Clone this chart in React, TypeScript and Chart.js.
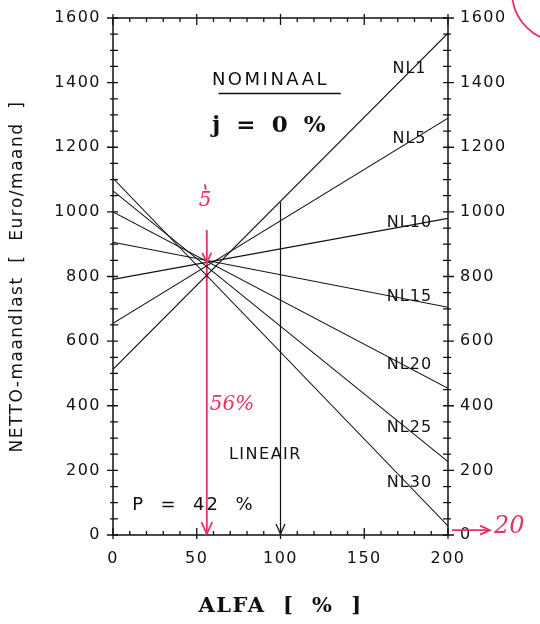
import React, { useEffect, useRef } from 'react';
import { Chart, registerables } from 'chart.js';

Chart.register(...registerables);

// ALFA [%] range of each NL line
const alfaRange = [0, 200];
// NL series labels
const nlLabels = ['NL1', 'NL5', 'NL10', 'NL15', 'NL20', 'NL25', 'NL30'];
// NETTO-maandlast at ALFA = 0
const nettoAtStart = [513, 655, 791, 906, 1000, 1065, 1104];
// NETTO-maandlast at ALFA = 200
const nettoAtEnd = [1553, 1290, 980, 705, 454, 227, 28];
// tick labels
const xTickValues = [0, 50, 100, 150, 200];
const yTickValues = [0, 200, 400, 600, 800, 1000, 1200, 1400, 1600];
// LINEAIR marker
const lineairAlfa = [100, 100];
const lineairNetto = [1030, 0];
// hand-drawn red marker (56%)
const markAlfa = [56, 56];
const markNetto = [944, 0];

const RED = '#e5325f';
const SANS = '"DejaVu Sans", sans-serif';

function arrowHead(ctx: CanvasRenderingContext2D, x: number, y: number, dir: 'down' | 'right', size: number) {
  ctx.beginPath();
  if (dir === 'down') {
    ctx.moveTo(x - size * 0.45, y - size);
    ctx.lineTo(x, y);
    ctx.lineTo(x + size * 0.45, y - size);
  } else {
    ctx.moveTo(x - size, y - size * 0.45);
    ctx.lineTo(x, y);
    ctx.lineTo(x - size, y + size * 0.45);
  }
  ctx.stroke();
}

const spacingPlugin = {
  id: 'spacing',
  beforeDraw(chart: any) {
    (chart.ctx as any).letterSpacing = '1.5px';
  },
  afterDraw(chart: any) {
    (chart.ctx as any).letterSpacing = '0px';
  },
};

const decorPlugin = {
  id: 'decor',
  afterDatasetsDraw(chart: any) {
    const { ctx, chartArea: a, scales } = chart;
    const x = scales.x;
    const y = scales.y;
    ctx.save();
    ctx.strokeStyle = '#111';
    ctx.lineWidth = 1.5;
    ctx.strokeRect(a.left, a.top, a.right - a.left, a.bottom - a.top);
    // ticks crossing the frame
    ctx.lineWidth = 1.3;
    for (let v = alfaRange[0]; v <= alfaRange[1]; v += 10) {
      const px = x.getPixelForValue(v);
      const major = xTickValues.includes(v);
      const l = major ? 7 : 4;
      ctx.beginPath();
      ctx.moveTo(px, a.bottom - l);
      ctx.lineTo(px, a.bottom + (major ? 4 : 0));
      ctx.moveTo(px, a.top - (major ? 4 : 0));
      ctx.lineTo(px, a.top + l);
      ctx.stroke();
    }
    for (let v = 0; v <= 1600; v += 50) {
      const py = y.getPixelForValue(v);
      const major = yTickValues.includes(v);
      ctx.beginPath();
      ctx.moveTo(a.left - (major ? 6 : 3), py);
      ctx.lineTo(a.left + 5, py);
      ctx.moveTo(a.right - 5, py);
      ctx.lineTo(a.right + (major ? 6 : 3), py);
      ctx.stroke();
    }
    // NL labels on their lines
    ctx.fillStyle = '#111';
    ctx.textAlign = 'center';
    ctx.textBaseline = 'middle';
    ctx.font = `16px ${SANS}`;
    (ctx as any).letterSpacing = '1px';
    const labelAlfa = 177;
    nlLabels.forEach((lab, i) => {
      const v = nettoAtStart[i] + (nettoAtEnd[i] - nettoAtStart[i]) * (labelAlfa - alfaRange[0]) / (alfaRange[1] - alfaRange[0]);
      ctx.fillText(lab, x.getPixelForValue(labelAlfa), y.getPixelForValue(v) - 3);
    });
    // NOMINAAL
    ctx.font = `18px ${SANS}`;
    (ctx as any).letterSpacing = '2.5px';
    ctx.fillText('NOMINAAL', x.getPixelForValue(94), y.getPixelForValue(1408));
    ctx.lineWidth = 1.5;
    ctx.beginPath();
    ctx.moveTo(x.getPixelForValue(63), y.getPixelForValue(1366));
    ctx.lineTo(x.getPixelForValue(136), y.getPixelForValue(1366));
    ctx.stroke();
    (ctx as any).letterSpacing = '0px';
    ctx.font = `bold 23px "DejaVu Serif", serif`;
    ctx.fillText('j  =  0  %', x.getPixelForValue(93), y.getPixelForValue(1266));
    ctx.font = `16px ${SANS}`;
    (ctx as any).letterSpacing = '1.5px';
    ctx.fillText('LINEAIR', x.getPixelForValue(91), y.getPixelForValue(248));
    ctx.font = `18px ${SANS}`;
    (ctx as any).letterSpacing = '2px';
    ctx.fillText('P  =  42  %', x.getPixelForValue(48), y.getPixelForValue(93));
    (ctx as any).letterSpacing = '0px';
    // LINEAIR arrowhead
    ctx.lineWidth = 1.2;
    arrowHead(ctx, x.getPixelForValue(lineairAlfa[1]), y.getPixelForValue(lineairNetto[1]) - 1, 'down', 10);
    // red annotations
    ctx.strokeStyle = RED;
    ctx.fillStyle = RED;
    ctx.lineWidth = 1.8;
    const mx = x.getPixelForValue(markAlfa[0]);
    arrowHead(ctx, mx, y.getPixelForValue(842), 'down', 10);
    arrowHead(ctx, mx, y.getPixelForValue(markNetto[1]) - 1, 'down', 12);
    ctx.font = `italic 20px "DejaVu Serif", serif`;
    ctx.fillText('5', x.getPixelForValue(55), y.getPixelForValue(1035));
    ctx.beginPath();
    ctx.moveTo(mx - 2, y.getPixelForValue(1085));
    ctx.lineTo(mx - 1, y.getPixelForValue(1068));
    ctx.stroke();
    ctx.font = `italic 20px "DejaVu Serif", serif`;
    ctx.fillText('56%', x.getPixelForValue(71), y.getPixelForValue(402));
    // --> 20 at the right
    const ry = y.getPixelForValue(15);
    ctx.beginPath();
    ctx.moveTo(a.right + 4, ry);
    ctx.lineTo(a.right + 40, ry);
    ctx.stroke();
    arrowHead(ctx, a.right + 42, ry, 'right', 10);
    ctx.textAlign = 'left';
    ctx.font = `italic 24px "DejaVu Serif", serif`;
    ctx.fillText('20', a.right + 46, ry - 3);
    // partial circle top right
    ctx.beginPath();
    ctx.arc(562, -8, 50, Math.PI * 0.5, Math.PI * 1.05);
    ctx.stroke();
    ctx.restore();
  },
};

export default function App() {
  const ref = useRef<HTMLCanvasElement | null>(null);
  useEffect(() => {
    if (!ref.current) return;
    const nlSets = nlLabels.map((lab, i) => ({
      label: lab,
      data: [
        { x: alfaRange[0], y: nettoAtStart[i] },
        { x: alfaRange[1], y: nettoAtEnd[i] },
      ],
      borderColor: '#111',
      borderWidth: 1.1,
      pointRadius: 0,
      fill: false,
    }));
    const tickFont = { family: 'DejaVu Sans', size: 16 };
    const fmt = (v: any) => String(v);
    const chart = new Chart(ref.current, {
      type: 'line',
      data: {
        datasets: [
          ...nlSets,
          {
            label: 'LINEAIR',
            data: lineairAlfa.map((v, i) => ({ x: v, y: lineairNetto[i] })),
            borderColor: '#111',
            borderWidth: 1.2,
            pointRadius: 0,
          },
          {
            label: '56%',
            data: markAlfa.map((v, i) => ({ x: v, y: markNetto[i] })),
            borderColor: RED,
            borderWidth: 1.8,
            pointRadius: 0,
          },
        ] as any,
      },
      options: {
        animation: false,
        responsive: false,
        maintainAspectRatio: false,
        layout: { padding: 0 },
        plugins: { legend: { display: false }, tooltip: { enabled: false } },
        scales: {
          x: {
            type: 'linear',
            position: 'bottom',
            min: alfaRange[0],
            max: alfaRange[1],
            grid: { display: false },
            border: { display: false },
            afterBuildTicks: (s: any) => { s.ticks = xTickValues.map((v) => ({ value: v })); },
            afterFit: (s: any) => { s.height = 89; },
            ticks: { color: '#111', font: tickFont, padding: 6, maxRotation: 0, callback: fmt },
            title: {
              display: true,
              text: 'ALFA  [  %  ]',
              color: '#111',
              font: { family: 'DejaVu Serif', size: 21, weight: 'bold' },
              padding: { top: 4, bottom: 5 },
            },
          },
          xTop: {
            type: 'linear',
            position: 'top',
            min: alfaRange[0],
            max: alfaRange[1],
            grid: { display: false },
            border: { display: false },
            ticks: { display: false },
            afterFit: (s: any) => { s.height = 18; },
          },
          y: {
            type: 'linear',
            position: 'left',
            min: 0,
            max: 1600,
            grid: { display: false },
            border: { display: false },
            afterBuildTicks: (s: any) => { s.ticks = yTickValues.map((v) => ({ value: v })); },
            afterFit: (s: any) => { s.width = 113; },
            ticks: { color: '#111', font: tickFont, padding: 4, callback: fmt },
            title: {
              display: true,
              text: 'NETTO-maandlast  [  Euro/maand  ]',
              color: '#111',
              font: { family: 'DejaVu Sans', size: 17 },
              padding: { top: 7, bottom: 0 },
            },
          },
          yRight: {
            type: 'linear',
            position: 'right',
            min: 0,
            max: 1600,
            grid: { display: false },
            border: { display: false },
            afterBuildTicks: (s: any) => { s.ticks = yTickValues.map((v) => ({ value: v })); },
            afterFit: (s: any) => { s.width = 92; },
            ticks: { color: '#111', font: tickFont, padding: 4, callback: fmt },
          },
        } as any,
      },
      plugins: [spacingPlugin, decorPlugin],
    });
    return () => chart.destroy();
  }, []);
  return (
    <div style={{ position: 'fixed', left: 0, top: 0, width: 540, height: 624, background: '#fff' }}>
      <canvas ref={ref} width={540} height={624} style={{ width: 540, height: 624, display: 'block' }} />
    </div>
  );
}
